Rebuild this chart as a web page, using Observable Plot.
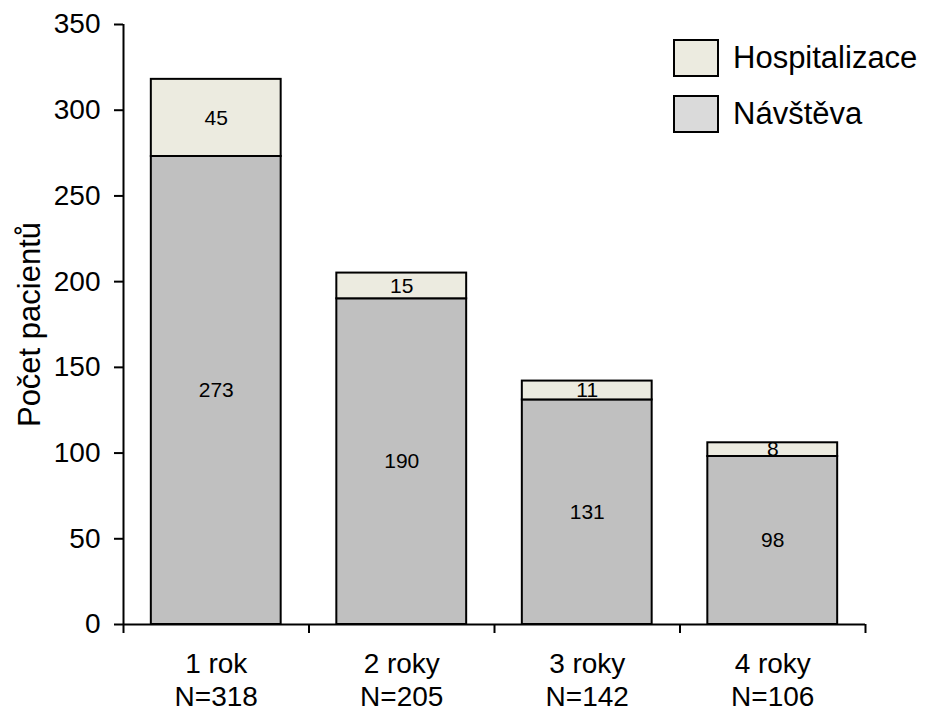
<!DOCTYPE html>
<html>
<head>
<meta charset="utf-8">
<script src="https://cdn.jsdelivr.net/npm/d3@7"></script>
<script src="https://cdn.jsdelivr.net/npm/@observablehq/plot@0.6"></script>
<style>
  html, body { margin: 0; padding: 0; background: #fff; }
  #wrap { position: relative; width: 925px; height: 711px; font-family: "Liberation Sans", Arial, sans-serif; }
  .leg { position: absolute; display: flex; align-items: center; font-size: 31px; color: #000; }
  .leg .box { width: 42px; height: 34px; border: 2px solid #000; margin-right: 14px; }
</style>
</head>
<body>
<div id="wrap"></div>
<script>
const categories = ["1 rok", "2 roky", "3 roky", "4 roky"];
const nLabels = ["N=318", "N=205", "N=142", "N=106"];
const navsteva = [273, 190, 131, 98];
const hospitalizace = [45, 15, 11, 8];
const yTicks = [0, 50, 100, 150, 200, 250, 300, 350];
const seriesNames = ["Hospitalizace", "Návštěva"];
const seriesColors = ["#ecebe0", "#c0c0c0"];
const legendColors = ["#ecebe0", "#dadada"];
const yLabel = "Počet pacientů";

const rows = [];
categories.forEach((c, i) => rows.push({cat: c, type: "Návštěva", value: navsteva[i]}));
categories.forEach((c, i) => rows.push({cat: c, type: "Hospitalizace", value: hospitalizace[i]}));

const W = 925, H = 711, ML = 123, MR = 60, MT = 24, MB = 87;
const step = (W - ML - MR) / categories.length;

const chart = Plot.plot({
  width: W, height: H,
  marginLeft: ML, marginRight: MR, marginTop: MT, marginBottom: MB,
  style: {fontFamily: "'Liberation Sans', Arial, sans-serif", color: "#000", background: "#fff"},
  x: {domain: categories, paddingInner: 0.3, paddingOuter: 0.15, round: false},
  y: {domain: [0, 350]},
  color: {domain: seriesNames, range: seriesColors},
  marks: [
    Plot.barY(rows, {x: "cat", y: "value", fill: "type", stroke: "#000", strokeWidth: 2, order: null}),
    Plot.text(rows, Plot.stackY({x: "cat", y: "value", text: d => String(d.value), fontSize: 21, fill: "#000", order: null})),
    Plot.ruleY([0], {stroke: "#000", strokeWidth: 2}),
    Plot.ruleX([categories[0]], {dx: -step / 2, stroke: "#000", strokeWidth: 2}),
    Plot.axisY({ticks: yTicks, tickSize: 9, tickPadding: 14, fontSize: 28, label: null, strokeWidth: 2, stroke: "#000"}),
    Plot.axisX({tickSize: 0, tickPadding: 24, fontSize: 28, lineHeight: 1.21, label: null,
      tickFormat: d => d + "\n" + nLabels[categories.indexOf(d)]}),
    Plot.axisX({tickSize: 9, dx: -step / 2, strokeWidth: 2, stroke: "#000", label: null, tickFormat: () => ""}),
    Plot.axisX([categories[categories.length - 1]], {tickSize: 9, dx: step / 2, strokeWidth: 2, stroke: "#000", label: null, tickFormat: () => ""}),
    Plot.text([yLabel], {frameAnchor: "left", textAnchor: "middle", rotate: -90, dx: -93, fontSize: 31, fill: "#000"})
  ]
});

const wrap = document.getElementById("wrap");
wrap.appendChild(chart);

const legTops = [39, 95];
seriesNames.forEach((name, i) => {
  const d = document.createElement("div");
  d.className = "leg";
  d.style.left = "673px";
  d.style.top = legTops[i] + "px";
  const b = document.createElement("div");
  b.className = "box";
  b.style.background = legendColors[i];
  const t = document.createElement("span");
  t.textContent = name;
  d.appendChild(b);
  d.appendChild(t);
  wrap.appendChild(d);
});
</script>
</body>
</html>
